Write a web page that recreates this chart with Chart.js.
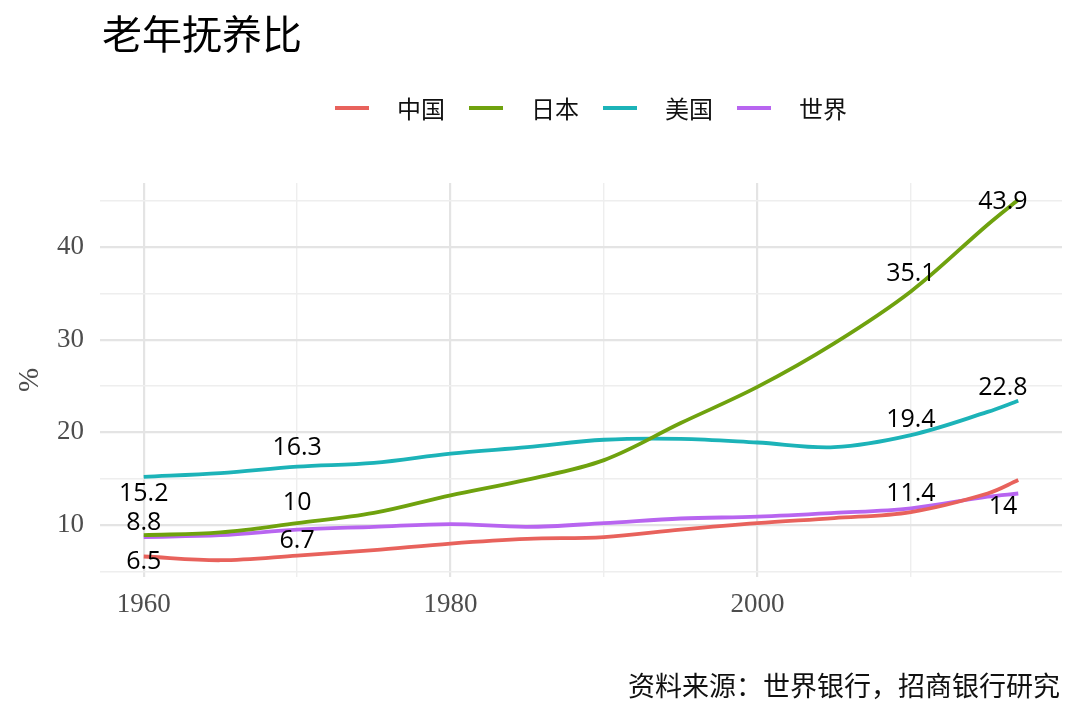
<!DOCTYPE html>
<html>
<head>
<meta charset="utf-8">
<script src="https://cdn.jsdelivr.net/npm/chart.js@4.4.1/dist/chart.umd.min.js"></script>
<style>
  html, body { margin: 0; padding: 0; background: #fff; }
  #wrap { width: 1080px; height: 720px; position: relative; }
</style>
</head>
<body>
<div id="wrap"><canvas id="dependencyChart"></canvas></div>
<script>
// old-age dependency ratio (%)
const years = [1960, 1965, 1970, 1975, 1980, 1985, 1990, 1995, 2000, 2005, 2010, 2015, 2017];
const china = [6.6, 6.2, 6.7, 7.3, 8.0, 8.5, 8.7, 9.5, 10.2, 10.75, 11.4, 13.4, 14.85];
const japan = [8.9, 9.2, 10.2, 11.3, 13.2, 14.9, 17.0, 21.0, 24.9, 29.6, 35.2, 42.4, 45.1];
const usa   = [15.2, 15.6, 16.3, 16.7, 17.7, 18.4, 19.2, 19.3, 18.9, 18.4, 19.7, 22.2, 23.4];
const world = [8.7, 8.9, 9.5, 9.8, 10.1, 9.8, 10.2, 10.7, 10.9, 11.3, 11.8, 13.05, 13.4];

const seriesNames = ['中国', '日本', '美国', '世界'];

// value labels (China, Japan, US) at these years
const labelYears = [1960, 1970, 2010, 2016];
const chinaLabels = [6.5, 6.7, 11.4, 14];
const japanLabels = [8.8, 10, 35.1, 43.9];
const usaLabels = [15.2, 16.3, 19.4, 22.8];

const xTicks = [1960, 1970, 1980, 1990, 2000, 2010];
const yTicks = [5, 10, 15, 20, 25, 30, 35, 40, 45];

const titleText = '老年抚养比';
const captionText = '资料来源：世界银行，招商银行研究';

// label nudges in px (like ggrepel moved them)
const labelNudge = [
  [4, -15, -18, 19],
  [-13, -22, -18, -9],
  [17, -19, -18, -18]
];

const colors = ['#E8625C', '#6FA20E', '#1CB3B8', '#B865F0'];

const toPoints = vals => years.map((y, i) => ({ x: y, y: vals[i] }));

const decor = {
  id: 'decor',
  afterDatasetsDraw(chart) {
    const ctx = chart.ctx;
    const xs = chart.scales.x, ys = chart.scales.y;
    ctx.save();
    // value labels
    ctx.font = '25px "Open Sans"';
    ctx.fillStyle = '#000';
    ctx.textAlign = 'center';
    ctx.textBaseline = 'middle';
    [chinaLabels, japanLabels, usaLabels].forEach((vals, s) => {
      vals.forEach((v, i) => {
        const px = xs.getPixelForValue(labelYears[i]);
        const py = ys.getPixelForValue(v) + labelNudge[s][i];
        ctx.fillText(String(v), px, py);
      });
    });
    ctx.restore();
  },
  afterDraw(chart) {
    const ctx = chart.ctx;
    ctx.save();
    // title
    ctx.font = '40px "Noto Sans CJK SC"';
    ctx.fillStyle = '#000';
    ctx.textAlign = 'left';
    ctx.textBaseline = 'middle';
    ctx.fillText(titleText, 102, 34);

    // legend
    const startX = 335, step = 134;
    chart.data.datasets.forEach((ds, i) => {
      const x0 = startX + i * step;
      ctx.strokeStyle = ds.borderColor;
      ctx.lineWidth = 4;
      ctx.beginPath();
      ctx.moveTo(x0, 108);
      ctx.lineTo(x0 + 34, 108);
      ctx.stroke();
      ctx.font = '24px "Noto Sans CJK SC"';
      ctx.fillStyle = '#111';
      ctx.fillText(ds.label, x0 + 62, 109);
    });

    // caption
    ctx.font = '27px "Noto Sans CJK SC"';
    ctx.textAlign = 'right';
    ctx.fillStyle = '#111';
    ctx.fillText(captionText, 1060, 686);
    ctx.restore();
  }
};

const ctx = document.getElementById('dependencyChart').getContext('2d');
new Chart(ctx, {
  type: 'line',
  data: {
    datasets: [china, japan, usa, world].map((vals, i) => ({
      label: seriesNames[i],
      data: toPoints(vals),
      borderColor: colors[i],
      backgroundColor: colors[i],
      borderWidth: 3.8,
      pointRadius: 0,
      tension: 0.35,
      fill: false
    }))
  },
  options: {
    responsive: true,
    maintainAspectRatio: false,
    animation: false,
    layout: { padding: { top: 183, right: 18, bottom: 93, left: 0 } },
    plugins: {
      legend: { display: false },
      title: { display: false },
      tooltip: { enabled: false }
    },
    scales: {
      x: {
        type: 'linear',
        min: 1957.15,
        max: 2019.85,
        afterBuildTicks: scale => { scale.ticks = xTicks.map(v => ({ value: v })); },
        afterFit: scale => { scale.height = 50; },
        border: { display: false },
        grid: {
          drawTicks: false,
          color: c => (c.tick && c.tick.value % 20 === 0) ? '#e4e4e4' : '#eeeeee',
          lineWidth: c => (c.tick && c.tick.value % 20 === 0) ? 2.2 : 1.4
        },
        ticks: {
          padding: 12,
          color: '#4d4d4d',
          font: { family: '"Liberation Serif"', size: 27 },
          maxRotation: 0,
          autoSkip: false,
          callback: v => v % 20 === 0 ? String(v) : ''
        }
      },
      y: {
        min: 4.39,
        max: 46.9,
        afterBuildTicks: scale => { scale.ticks = yTicks.map(v => ({ value: v })); },
        afterFit: scale => { scale.width = 100; },
        border: { display: false },
        grid: {
          drawTicks: false,
          color: c => (c.tick && c.tick.value % 10 === 0) ? '#e4e4e4' : '#eeeeee',
          lineWidth: c => (c.tick && c.tick.value % 10 === 0) ? 2.2 : 1.4
        },
        title: {
          display: true,
          text: '%',
          color: '#4d4d4d',
          font: { family: '"Liberation Serif"', size: 29 },
          padding: { top: 13, bottom: 0 }
        },
        ticks: {
          padding: 16,
          color: '#4d4d4d',
          font: { family: '"Liberation Serif"', size: 27 },
          autoSkip: false,
          callback: v => v % 10 === 0 ? String(v) : ''
        }
      }
    }
  },
  plugins: [decor]
});
</script>
</body>
</html>
